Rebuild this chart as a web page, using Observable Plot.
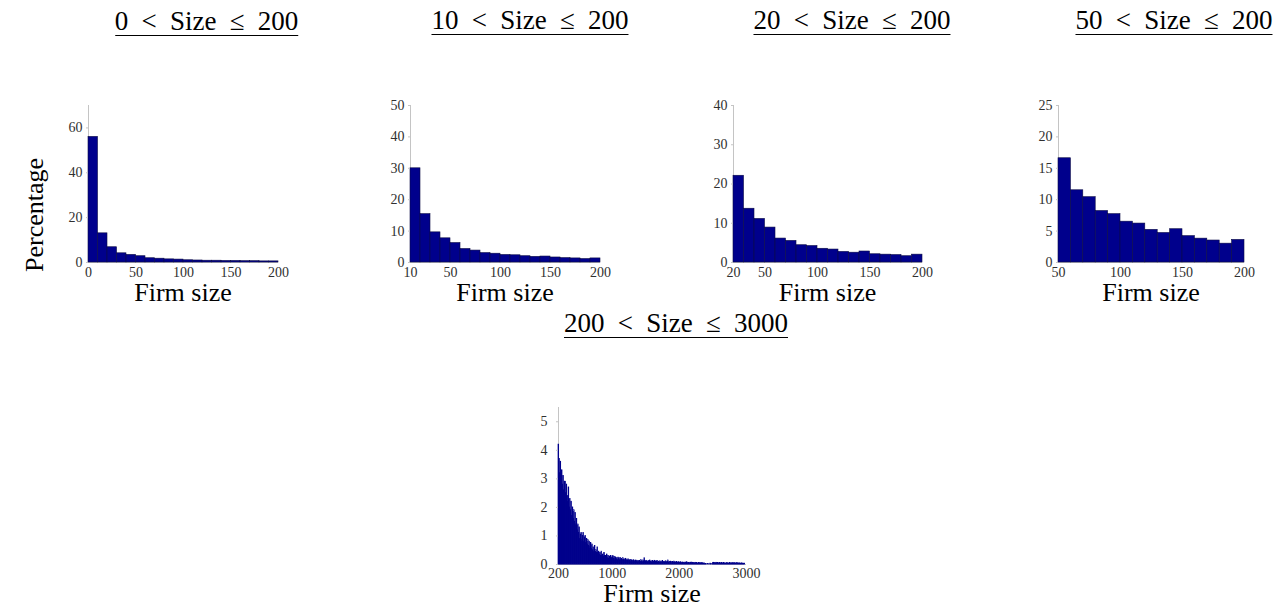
<!DOCTYPE html>
<html>
<head>
<meta charset="utf-8">
<script src="https://cdn.jsdelivr.net/npm/d3@7"></script>
<script src="https://cdn.jsdelivr.net/npm/@observablehq/plot@0.6"></script>
<style>
  html, body { margin: 0; padding: 0; background: #fff; }
  #root { position: relative; width: 1282px; height: 612px; overflow: hidden; font-family: "Liberation Serif", "Times New Roman", Times, serif; }
  .ttl { position: absolute; font-size: 27px; line-height: 27px; white-space: nowrap; color: #000; border-bottom: 1.2px solid #000; word-spacing: 6.5px; transform: translateX(-50%); }
  .xl { position: absolute; font-size: 26px; line-height: 16px; white-space: nowrap; color: #000; transform: translateX(-50%); }
  .yl { position: absolute; font-size: 26px; line-height: 26px; white-space: nowrap; color: #000; transform-origin: 0 0; transform: rotate(-90deg) translateX(-50%); }
  .panel { position: absolute; }
</style>
</head>
<body>
<div id="root"></div>
<script>
// ---- data ----
const titles = ["0 < Size ≤ 200", "10 < Size ≤ 200", "20 < Size ≤ 200", "50 < Size ≤ 200", "200 < Size ≤ 3000"];
const xLabel = "Firm size";
const yLabel = "Percentage";

const binWidth = 10;

const p1Start = 0;
const p1Pct = [56, 13, 6.8, 4.1, 3.4, 2.8, 1.9, 1.7, 1.4, 1.3, 1.0, 0.9, 0.8, 0.8, 0.7, 0.7, 0.6, 0.6, 0.5, 0.5];
const p1XTicks = [0, 50, 100, 150, 200];
const p1YTicks = [0, 20, 40, 60];

const p2Start = 10;
const p2Pct = [30.0, 15.4, 9.6, 7.7, 6.2, 4.3, 3.8, 3.0, 2.8, 2.4, 2.3, 2.0, 1.8, 1.9, 1.6, 1.4, 1.3, 1.1, 1.3];
const p2XTicks = [10, 50, 100, 150, 200];
const p2YTicks = [0, 10, 20, 30, 40, 50];

const p3Start = 20;
const p3Pct = [22.1, 13.7, 11.1, 8.9, 6.1, 5.5, 4.4, 4.2, 3.5, 3.3, 2.7, 2.5, 2.8, 2.1, 2.0, 1.9, 1.6, 2.0];
const p3XTicks = [20, 50, 100, 150, 200];
const p3YTicks = [0, 10, 20, 30, 40];

const p4Start = 50;
const p4Pct = [16.6, 11.5, 10.4, 8.2, 7.7, 6.5, 6.2, 5.2, 4.7, 5.3, 4.2, 3.8, 3.5, 3.0, 3.6];
const p4XTicks = [50, 100, 150, 200];
const p4YTicks = [0, 5, 10, 15, 20, 25];

const p5Start = 200;
const p5Pct = [
  4.2, 3.7, 3.2, 3.6, 3.0, 3.3, 2.8, 3.1, 2.6, 2.9,
  2.9, 2.5, 2.8, 2.2, 2.4, 2.7, 2.0, 2.3, 1.9, 2.2,
  1.7, 2.0, 1.6, 1.9, 1.5, 1.8, 1.4, 1.6, 1.2, 1.4,
  1.1, 1.3, 0.9, 1.05, 1.1, 0.85, 1.0, 1.1, 0.8, 0.95,
  1.0, 0.75, 0.9, 0.7, 0.85, 0.65, 0.8, 0.6, 0.75, 0.55,
  0.7, 0.5, 0.6, 0.45, 0.65, 0.45, 0.5, 0.4, 0.6, 0.4,
  0.45, 0.35, 0.4, 0.3, 0.45, 0.3, 0.35, 0.28, 0.4, 0.3,
  0.3, 0.25, 0.35, 0.22, 0.3, 0.2, 0.28, 0.18, 0.3, 0.22,
  0.25, 0.3, 0.2, 0.27, 0.18, 0.25, 0.2, 0.22, 0.15, 0.24,
  0.2, 0.15, 0.23, 0.17, 0.2, 0.14, 0.22, 0.16, 0.18, 0.13,
  0.2, 0.14, 0.17, 0.12, 0.18, 0.13, 0.15, 0.1, 0.16, 0.12,
  0.14, 0.1, 0.15, 0.12, 0.09, 0.14, 0.11, 0.13, 0.08, 0.12,
  0.1, 0.13, 0.09, 0.15, 0.11, 0.08, 0.14, 0.1, 0.22, 0.12,
  0.09, 0.13, 0.1, 0.08, 0.12, 0.1, 0.14, 0.09, 0.11, 0.07,
  0.12, 0.08, 0.1, 0.13, 0.07, 0.11, 0.09, 0.12, 0.06, 0.1,
  0.08, 0.11, 0.07, 0.1, 0.06, 0.12, 0.08, 0.09, 0.07, 0.1,
  0.11, 0.07, 0.09, 0.14, 0.06, 0.09, 0.08, 0.1, 0.06, 0.08,
  0.09, 0.06, 0.1, 0.07, 0.08, 0.05, 0.09, 0.07, 0.06, 0.08,
  0.07, 0.05, 0.08, 0.06, 0.04, 0.07, 0.05, 0.06, 0.04, 0.07,
  0.05, 0.08, 0.04, 0.06, 0.05, 0.03, 0.06, 0.05, 0.07, 0.04,
  0.06, 0.04, 0.05, 0.03, 0.06, 0.04, 0.05, 0.02, 0.04, 0.05,
  0.03, 0.05, 0.02, 0.04, 0.05, 0.02, 0.03, 0.04, 0.01, 0.02,
  0.01, 0.0, 0.02, 0.0, 0.01, 0.0, 0.03, 0.01, 0.0, 0.02,
  0.05, 0.06, 0.04, 0.05, 0.03, 0.06, 0.04, 0.05, 0.03, 0.04,
  0.05, 0.03, 0.04, 0.05, 0.02, 0.04, 0.05, 0.03, 0.04, 0.02,
  0.04, 0.05, 0.03, 0.04, 0.02, 0.05, 0.03, 0.04, 0.03, 0.05,
  0.03, 0.04, 0.05, 0.02, 0.04, 0.03, 0.05, 0.02, 0.04, 0.03,
  0.04, 0.02, 0.03, 0.04, 0.02, 0.03, 0.02, 0.03, 0.0, 0.0
];
const p5XTicks = [200, 1000, 2000, 3000];
const p5YTicks = [0, 1, 2, 3, 4, 5];

// ---- layout ----
const root = document.getElementById("root");
const BAR = "#00008c";
const AXIS = "#c4c4c4";
const TICKTXT = "#303030";
const FONT = '"Liberation Serif", "Times New Roman", Times, serif';

function bins(start, pct) {
  return pct.map((v, i) => ({lo: start + i * binWidth, hi: start + (i + 1) * binWidth, pct: v}));
}

function panel({data, xDomain, yDomain, xTicks, yTicks, left, right, top, bottom, stroke, strokeWidth, xPad, yPad, labelGap, title, titleX, titleBase}) {
  const mL = 40, mR = 22, mT = 10, mB = 30;
  const w = (right - left) + mL + mR;
  const h = (bottom - top) + mT + mB;
  const chart = Plot.plot({
    width: w, height: h,
    marginLeft: mL, marginRight: mR, marginTop: mT, marginBottom: mB,
    style: {fontFamily: FONT, fontSize: "14px", background: "transparent", color: TICKTXT, overflow: "visible"},
    x: {domain: xDomain},
    y: {domain: yDomain},
    marks: [
      Plot.ruleY([0], {stroke: AXIS, strokeWidth: 1}),
      Plot.ruleX([xDomain[0]], {stroke: AXIS, strokeWidth: 1}),
      Plot.rectY(data, {x1: "lo", x2: "hi", y: "pct", fill: BAR, stroke: stroke, strokeWidth: strokeWidth, insetLeft: 0, insetRight: 0}),
      Plot.axisX({ticks: xTicks, tickSize: 0, tickPadding: xPad, tickFormat: d => String(d), fill: TICKTXT, label: null, fontFamily: FONT}),
      Plot.axisY({ticks: yTicks, tickSize: 2, tickPadding: yPad, tickFormat: d => String(d), fill: TICKTXT, stroke: AXIS, label: null, fontFamily: FONT})
    ]
  });
  chart.classList.add("panel");
  chart.style.left = (left - mL) + "px";
  chart.style.top = (top - mT) + "px";
  root.appendChild(chart);

  const t = document.createElement("div");
  t.className = "ttl";
  t.textContent = title;
  t.style.left = titleX + "px";
  t.style.top = (titleBase - 22.6) + "px";
  root.appendChild(t);

  // baseline of the axis label sits labelGap px below the x axis (line-height 16px -> baseline at top + 16.8px)
  const xl = document.createElement("div");
  xl.className = "xl";
  xl.textContent = xLabel;
  xl.style.left = ((left + right) / 2) + "px";
  xl.style.top = (bottom + labelGap - 16.8) + "px";
  root.appendChild(xl);
}

panel({data: bins(p1Start, p1Pct), xDomain: [0, 200], yDomain: [0, 70], xTicks: p1XTicks, yTicks: p1YTicks,
  left: 88, right: 278, top: 105, bottom: 262, stroke: "#0a0a45", strokeWidth: 0.6, xPad: 5, yPad: 4, labelGap: 40, title: titles[0], titleX: 206.5, titleBase: 31});
panel({data: bins(p2Start, p2Pct), xDomain: [10, 200], yDomain: [0, 50], xTicks: p2XTicks, yTicks: p2YTicks,
  left: 410, right: 600, top: 105, bottom: 262, stroke: "#0a0a45", strokeWidth: 0.6, xPad: 5, yPad: 4, labelGap: 40, title: titles[1], titleX: 530, titleBase: 30});
panel({data: bins(p3Start, p3Pct), xDomain: [20, 200], yDomain: [0, 40], xTicks: p3XTicks, yTicks: p3YTicks,
  left: 733, right: 922, top: 105, bottom: 262, stroke: "#0a0a45", strokeWidth: 0.6, xPad: 5, yPad: 4, labelGap: 40, title: titles[2], titleX: 852, titleBase: 30});
panel({data: bins(p4Start, p4Pct), xDomain: [50, 200], yDomain: [0, 25], xTicks: p4XTicks, yTicks: p4YTicks,
  left: 1058, right: 1244, top: 105, bottom: 262, stroke: "#0a0a45", strokeWidth: 0.6, xPad: 5, yPad: 4, labelGap: 40, title: titles[3], titleX: 1174, titleBase: 30});
panel({data: bins(p5Start, p5Pct), xDomain: [200, 3000], yDomain: [0, 5.5], xTicks: p5XTicks, yTicks: p5YTicks,
  left: 558, right: 746, top: 407, bottom: 564, stroke: BAR, strokeWidth: 0.7, xPad: 4, yPad: 9, labelGap: 39, title: titles[4], titleX: 676, titleBase: 333});

const yl = document.createElement("div");
yl.className = "yl";
yl.textContent = yLabel;
yl.style.left = "22px";
yl.style.top = "215px";
root.appendChild(yl);
</script>
</body>
</html>
